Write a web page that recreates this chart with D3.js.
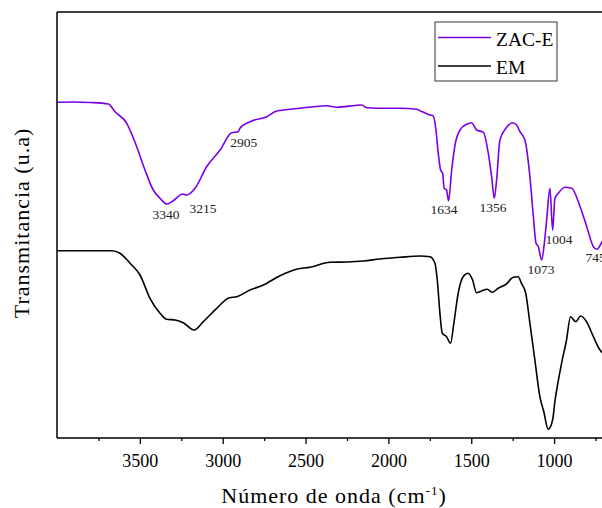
<!DOCTYPE html>
<html>
<head>
<meta charset="utf-8">
<script src="https://cdn.jsdelivr.net/npm/d3@7"></script>
<style>
  html, body { margin: 0; padding: 0; background: #fff; }
  svg { display: block; }
</style>
</head>
<body>
<svg id="chart" width="602" height="508"></svg>
<script>
// ---- Data (wavenumber cm^-1, transmittance a.u.) ----
const zacWavenumber = [4000,3900,3800,3690,3650,3579,3519,3469,3419,3378,3338,3298,3242,3217,3167,3097,3016,2946,2906,2896,2835,2734,2674,2533,2372,2312,2161,2131,2010,1930,1829,1809,1749,1729,1713,1699,1685,1673,1663,1649,1637,1618,1598,1568,1528,1498,1468,1427,1397,1377,1361,1347,1327,1291,1250,1226,1206,1176,1146,1125,1109,1095,1075,1059,1045,1025,1009,995,975,934,894,843,803,763,742,710,680];
const zacValues = [335.7,336,335.5,334,326.3,314.7,291.3,268,248,239.7,234,237.3,244,243,249.7,271.3,288,305.3,306.3,309.7,316.3,321.3,327,329.7,332.3,330.7,333,330.3,329.7,329.7,328.7,327.3,323,322,308,284.7,268,264.7,249.7,248,237.3,268,293,308,313.7,315.3,308,305.7,284.7,261.3,239.7,258,298,309.7,315.3,313,306.3,298,261.3,221.3,194.7,191.3,178,194.7,218,249.7,208,239.7,244.7,250.7,249.7,231.3,211.3,191.3,188.7,196.3,203];

const emWavenumber = [4000,3670,3620,3559,3499,3439,3378,3338,3288,3238,3173,3117,3036,2960,2916,2835,2755,2654,2554,2473,2352,2250,2150,2050,1930,1809,1749,1719,1705,1689,1675,1649,1625,1605,1579,1549,1519,1492,1468,1438,1404,1372,1338,1288,1247,1217,1197,1171,1146,1116,1086,1062,1036,1009,994,981,955,925,901,869,840,804,763,723,700];
const emValues = [187.3,187.3,184.7,174.7,163,139.7,124.7,118.7,118,115.3,108,116.3,129.7,140.3,141.3,148,153,162.3,168.7,170.7,175.7,176,177,179,180.7,182,181.3,174.7,158,124.7,104.7,101.3,94.7,114.7,144.7,161.3,164.7,158,145.3,147,148.7,145.7,149.7,154,160.7,161.3,154.7,144.7,114.7,78,41.3,26.3,8.7,18,38,51.3,74.7,98,121.3,116.3,122,116.3,101.3,88,84];

const seriesNames = ["ZAC-E", "EM"];
const seriesColors = ["#7a00e6", "#000000"];

const xTickMajor = [3500, 3000, 2500, 2000, 1500, 1000];
const xTickMinor = [3750, 3250, 2750, 2250, 1750, 1250, 750];

// peak annotations: text, wavenumber where the label is centred, value at its baseline
const peakLabels = ["3340", "3215", "2905", "1634", "1356", "1073", "1004", "745"];
const peakLabelAt = [3342, 3119, 2873, 1664, 1369, 1079, 970, 750];
const peakValues = [219, 225.3, 291, 224, 225.7, 164, 194, 176.5];

(function () {
// ---- Layout ----
const svg = d3.select("#chart");
const mLeft = 57, mTop = 12, mBottom = 438;
const x = d3.scaleLinear().domain([4000, 400]).range([mLeft, mLeft + 3600 * 0.1657]);
const y = d3.scaleLinear().domain([0, 426]).range([mBottom, mTop]);

svg.append("defs").append("clipPath").attr("id", "clip")
  .append("rect").attr("x", mLeft).attr("y", mTop).attr("width", 700).attr("height", mBottom - mTop);

// lines
const line = d3.line().x(d => x(d[0])).y(d => y(d[1])).curve(d3.curveMonotoneX);
const series = [
  d3.zip(zacWavenumber, zacValues),
  d3.zip(emWavenumber, emValues)
];
const g = svg.append("g").attr("clip-path", "url(#clip)");
series.forEach((s, i) => {
  g.append("path").datum(s)
    .attr("d", line)
    .attr("fill", "none")
    .attr("stroke", seriesColors[i])
    .attr("stroke-width", 1.6)
    .attr("stroke-linejoin", "round");
});

// frame (top + left + bottom)
svg.append("line").attr("x1", mLeft).attr("x2", 602).attr("y1", mTop).attr("y2", mTop)
  .attr("stroke", "#000").attr("stroke-width", 1.5);
svg.append("line").attr("x1", mLeft).attr("x2", mLeft).attr("y1", mTop).attr("y2", mBottom)
  .attr("stroke", "#000").attr("stroke-width", 1.5);

// x axis
const xAxis = d3.axisBottom(x).tickValues(xTickMajor).tickSize(6).tickPadding(10).tickFormat(d3.format("d"));
const ax = svg.append("g").attr("transform", `translate(0,${mBottom})`).call(xAxis);
ax.select(".domain").remove();
ax.selectAll("text").attr("font-family", "'Liberation Serif', serif").attr("font-size", 18).attr("fill", "#000");
ax.selectAll("line").attr("stroke-width", 1.3);
const axMinor = svg.append("g").attr("transform", `translate(0,${mBottom})`)
  .call(d3.axisBottom(x).tickValues(xTickMinor).tickSize(3).tickFormat(""));
axMinor.select(".domain").remove();
axMinor.selectAll("line").attr("stroke-width", 1.3);
svg.append("line").attr("x1", mLeft).attr("x2", 602).attr("y1", mBottom).attr("y2", mBottom)
  .attr("stroke", "#000").attr("stroke-width", 1.5);

// peak labels
svg.append("g").selectAll("text").data(peakLabels).join("text")
  .attr("x", (d, i) => x(peakLabelAt[i]))
  .attr("y", (d, i) => y(peakValues[i]))
  .attr("text-anchor", "middle")
  .attr("font-family", "'Liberation Serif', serif")
  .attr("font-size", 13.5)
  .attr("fill", "#222")
  .text(d => d);

// axis titles
const xt = svg.append("text").attr("x", 334).attr("y", 503).attr("text-anchor", "middle")
  .attr("font-family", "'Liberation Serif', serif").attr("font-size", 22).attr("letter-spacing", 1)
  .attr("fill", "#000");
xt.append("tspan").text("Número de onda (cm");
xt.append("tspan").attr("dy", -8).attr("font-size", 13).text("-1");
xt.append("tspan").attr("dy", 8).text(")");

svg.append("text").attr("transform", "translate(29,223) rotate(-90)").attr("text-anchor", "middle")
  .attr("font-family", "'Liberation Serif', serif").attr("font-size", 22).attr("letter-spacing", 1)
  .attr("fill", "#000").text("Transmitancia (u.a)");

// legend
const lg = svg.append("g");
lg.append("rect").attr("x", 435).attr("y", 22).attr("width", 122).attr("height", 59)
  .attr("fill", "#fff").attr("stroke", "#333").attr("stroke-width", 1);
seriesNames.forEach((n, i) => {
  const yy = 37.5 + i * 28.5;
  lg.append("line").attr("x1", 438).attr("x2", 491).attr("y1", yy).attr("y2", yy)
    .attr("stroke", seriesColors[i]).attr("stroke-width", 1.6);
  lg.append("text").attr("x", 496).attr("y", yy + 8)
    .attr("font-family", "'Liberation Serif', serif").attr("font-size", 19.5).attr("fill", "#000").text(n);
});
})();
</script>
</body>
</html>
